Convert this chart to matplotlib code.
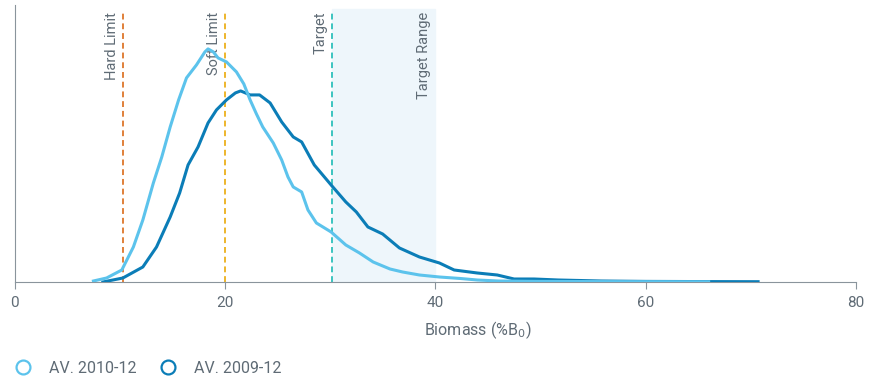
import matplotlib.pyplot as plt
from matplotlib.lines import Line2D

# data (density, arbitrary units)
x_1012 = [7.5, 8.75, 10.2, 11.3, 12.2, 13.2, 14.0, 14.8, 15.6, 16.35, 17.3, 18.1, 18.4, 18.9,
          19.35, 20.15, 21.1, 21.8, 22.4, 23.0, 23.6, 24.6, 25.4, 26.0, 26.5, 27.3, 27.9, 28.7,
          30.1, 31.5, 32.8, 34.1, 35.7, 36.9, 38.5, 40.4, 42.4, 44.0, 46.0, 50.0, 56.0, 62.0, 66.0]
y_1012 = [1, 4, 12, 35, 62, 99, 125, 155, 182, 204, 217, 230, 233, 230,
          224, 220, 210, 198, 182, 168, 155, 139, 122, 105, 95, 90, 72, 59,
          50, 37, 29, 20, 13, 10, 7, 5, 3.5, 2, 1, 0.6, 0.4, 0.3, 0.2]

x_0912 = [8.4, 10.3, 12.2, 13.5, 14.8, 15.7, 16.5, 17.45, 18.4, 19.2, 20.15, 21.0, 21.5, 22.4,
          23.3, 24.3, 25.4, 26.5, 27.3, 28.5, 30.1, 31.5, 32.5, 33.6, 35.0, 36.6, 38.5, 40.4,
          41.8, 44.0, 45.9, 47.5, 49.4, 51.7, 55.8, 60.0, 66.0, 70.7]
y_0912 = [0, 4, 15, 35, 65, 89, 117, 135, 159, 172, 182, 189, 191, 187,
          187, 179, 160, 145, 140, 117, 97, 80, 70, 55, 48, 34, 25, 19,
          12, 9, 7, 3, 3, 2, 1, 0.6, 0.4, 0.3]

ref_lines = [10.3, 20, 30.2]
ref_labels = ["Hard Limit", "Soft Limit", "Target"]
ref_colors = ["#E0803A", "#EDB52C", "#3CC4C0"]
target_range = [30.2, 40]
xticks = [0, 20, 40, 60, 80]

light = "#5CC3EC"
dark = "#0B7DB7"
grey = "#5F6B75"

plt.rcParams['font.family'] = ['Roboto', 'DejaVu Sans']

fig = plt.figure(figsize=(8.81, 3.76), dpi=100)
ax = fig.add_axes([0.0165, 0.25, 0.955, 0.737])

ax.axvspan(target_range[0], target_range[1], ymin=0, ymax=0.985, color="#EEF6FB", zorder=0)
for xv, lab, c in zip(ref_lines, ref_labels, ref_colors):
    ax.plot([xv, xv], [0, 272], color=c, linestyle=(0, (3, 2)), linewidth=1.4, zorder=1)
    ax.text(xv - 0.4, 270, lab, rotation=90, ha='right', va='top', fontsize=10.5, color=grey)
ax.text(target_range[1] - 0.4, 270, "Target Range", rotation=90, ha='right', va='top',
        fontsize=10.5, color=grey)

ax.plot(x_0912, y_0912, color=dark, linewidth=2.2, zorder=3)
ax.plot(x_1012, y_1012, color=light, linewidth=2.2, zorder=4)

ax.set_xlim(0, 80)
ax.set_ylim(0, 277)
ax.set_xticks(xticks)
ax.set_yticks([])
ax.tick_params(axis='x', colors="#8A949C", labelcolor=grey, labelsize=11, length=5, pad=5)
for s in ['top', 'right']:
    ax.spines[s].set_visible(False)
ax.spines['left'].set_color("#8A949C")
ax.spines['bottom'].set_color("#8A949C")
ax.set_xlabel("Biomass (%B$_0$)", fontsize=11.5, color=grey, labelpad=8)
ax.xaxis.set_label_coords(0.55, -0.135)

handles = [Line2D([], [], linestyle='none', marker='o', markersize=10, mfc='white', mec=light, mew=1.6),
           Line2D([], [], linestyle='none', marker='o', markersize=10, mfc='white', mec=dark, mew=1.6)]
fig.legend(handles, ["AV. 2010-12", "AV. 2009-12"], loc='lower left', bbox_to_anchor=(-0.008, -0.037),
           ncol=2, frameon=False, fontsize=11.5, labelcolor=grey, handletextpad=0.6, columnspacing=1.0)

fig.savefig("out.png", dpi=100)
